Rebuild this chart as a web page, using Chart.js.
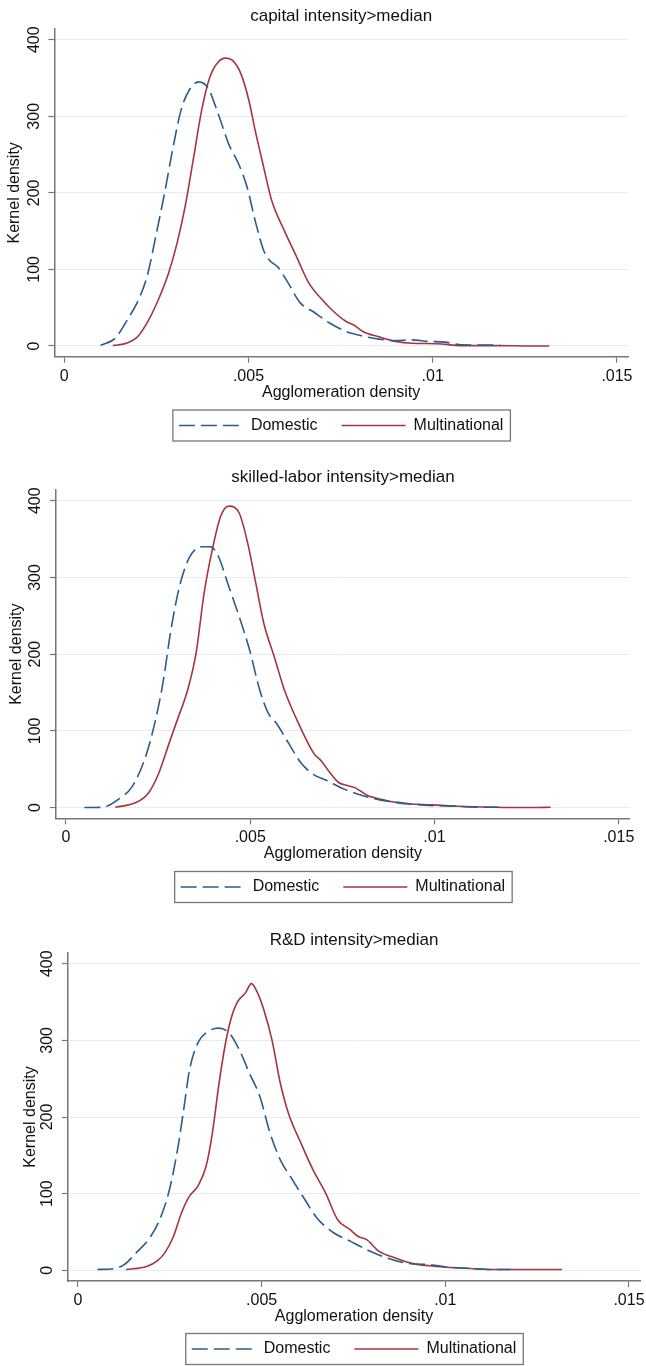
<!DOCTYPE html>
<html>
<head>
<meta charset="utf-8">
<script src="https://cdn.jsdelivr.net/npm/chart.js@4.4.1/dist/chart.umd.min.js"></script>
<style>
  html, body { margin: 0; padding: 0; background: #fff; overflow: hidden; }
  canvas { position: absolute; left: 0; }
</style>
</head>
<body>
<canvas id="capital" width="646" height="452" style="top:0px;width:646px;height:452px"></canvas>
<canvas id="skilled" width="646" height="458" style="top:452px;width:646px;height:458px"></canvas>
<canvas id="rnd" width="646" height="463" style="top:912px;width:646px;height:463px"></canvas>
<script>
const seriesNames = ["Domestic", "Multinational"];
const xTicks = [0, 0.005, 0.01, 0.015];
const xTickLabels = ["0", ".005", ".01", ".015"];
const yTicks = [0, 100, 200, 300, 400];
const yTickLabels = ["0", "100", "200", "300", "400"];

// capital intensity>median
const capDomX = [0.00099, 0.00138, 0.00171, 0.00205, 0.00227, 0.00250, 0.00272, 0.00294, 0.00317, 0.00339, 0.00365, 0.00390, 0.00418, 0.00446, 0.00473, 0.00496, 0.00518, 0.00541, 0.00557, 0.00580, 0.00608, 0.00641, 0.00675, 0.00720, 0.00765, 0.00810, 0.00854, 0.00899, 0.00944, 0.00988, 0.01033, 0.01078, 0.01123, 0.01184];
const capDomY = [1, 10, 34, 64, 95, 147, 199, 256, 308, 334, 345, 337, 303, 264, 238, 208, 164, 125, 112, 103, 82, 56, 45, 30, 19, 13, 9, 7, 8, 6, 5, 1.5, 1.3, 1];
const capMulX = [0.00132, 0.00171, 0.00199, 0.00227, 0.00255, 0.00283, 0.00306, 0.00328, 0.00350, 0.00373, 0.00395, 0.00418, 0.00438, 0.00457, 0.00479, 0.00501, 0.00518, 0.00541, 0.00563, 0.00597, 0.00630, 0.00664, 0.00697, 0.00731, 0.00765, 0.00787, 0.00810, 0.00854, 0.00899, 0.00944, 0.01011, 0.01078, 0.01168, 0.01268, 0.01316];
const capMulY = [0.5, 4, 12, 32, 60, 95, 134, 182, 243, 308, 351, 371, 376, 373, 356, 321, 282, 234, 190, 151, 117, 82, 62, 45, 32, 27, 19, 12, 6, 3.5, 3, 0.5, 0.5, 0, 0];

// skilled-labor intensity>median
const skDomX = [0.00050, 0.00100, 0.00146, 0.00179, 0.00213, 0.00241, 0.00263, 0.00285, 0.00308, 0.00336, 0.00369, 0.00392, 0.00414, 0.00442, 0.00470, 0.00498, 0.00526, 0.00549, 0.00571, 0.00604, 0.00638, 0.00672, 0.00705, 0.00750, 0.00795, 0.00851, 0.00907, 0.00974, 0.01052, 0.01108, 0.01175];
const skDomY = [0, 0.4, 12, 27, 62, 110, 162, 232, 288, 327, 340, 340, 327, 288, 249, 206, 153, 123, 110, 84, 58, 43, 36, 25, 17, 10, 6.5, 3, 2, 0.5, 0.4];
const skMulX = [0.00134, 0.00190, 0.00224, 0.00252, 0.00280, 0.00302, 0.00330, 0.00353, 0.00375, 0.00397, 0.00420, 0.00442, 0.00470, 0.00493, 0.00515, 0.00537, 0.00565, 0.00593, 0.00627, 0.00672, 0.00694, 0.00717, 0.00739, 0.00761, 0.00784, 0.00817, 0.00862, 0.00907, 0.00996, 0.01052, 0.01164, 0.01265, 0.01315];
const skMulY = [0.4, 6.5, 19, 45, 84, 114, 153, 201, 280, 336, 380, 393, 384, 345, 293, 240, 197, 153, 114, 71, 60, 45, 33, 29, 26, 16, 10, 5.6, 3.5, 2, 0.4, 0, 0.4];

// R&D intensity>median
const rdDomX = [0.00053, 0.00097, 0.00125, 0.00159, 0.00198, 0.00226, 0.00249, 0.00271, 0.00288, 0.00304, 0.00327, 0.00349, 0.00383, 0.00411, 0.00439, 0.00467, 0.00495, 0.00523, 0.00551, 0.00584, 0.00618, 0.00651, 0.00696, 0.00741, 0.00786, 0.00842, 0.00898, 0.00954, 0.01010, 0.01066, 0.01122, 0.01178];
const rdDomY = [1, 2, 7, 23, 44, 70, 105, 157, 210, 262, 297, 310, 316, 310, 288, 257, 227, 179, 144, 118, 92, 68, 49, 38, 27, 16, 9, 7.4, 4, 2.6, 1, 1];
const rdMulX = [0.00131, 0.00187, 0.00215, 0.00237, 0.00260, 0.00282, 0.00304, 0.00327, 0.00349, 0.00366, 0.00383, 0.00400, 0.00416, 0.00433, 0.00456, 0.00472, 0.00489, 0.00506, 0.00528, 0.00551, 0.00573, 0.00607, 0.00640, 0.00674, 0.00707, 0.00741, 0.00763, 0.00786, 0.00819, 0.00864, 0.00909, 0.00976, 0.01043, 0.01133, 0.01222, 0.01318];
const rdMulY = [1, 5, 12, 23, 44, 75, 97, 110, 136, 179, 240, 292, 327, 349, 362, 374, 362, 340, 301, 244, 205, 166, 131, 101, 66, 53, 44, 40, 25, 16, 9, 5, 3, 1, 1, 1];

Chart.defaults.font.family = "'Liberation Sans', Arial, sans-serif";
Chart.defaults.color = "#111";

const pts = (xs, ys) => xs.map((x, i) => ({ x: x, y: ys[i] }));

// legend samples: take the dash/colour from the dataset line itself
function lineLabels(chart) {
  const items = Chart.defaults.plugins.legend.labels.generateLabels(chart);
  items.forEach(it => {
    const ds = chart.data.datasets[it.datasetIndex];
    it.lineDash = ds.borderDash || [];
    it.strokeStyle = ds.borderColor;
    it.lineWidth = ds.borderWidth;
    it.pointStyle = "line";
  });
  return items;
}

// Stata style legend frame around the legend items
const legendBox = {
  id: "legendBox",
  afterDraw(chart) {
    const hb = chart.legend && chart.legend.legendHitBoxes;
    if (!hb || !hb.length) return;
    const last = hb[hb.length - 1];
    const left = hb[0].left - 6;
    const right = last.left + last.width + 7;
    const cy = hb[0].top + hb[0].height / 2;
    const c = chart.ctx;
    c.save();
    c.strokeStyle = "#777";
    c.lineWidth = 1.3;
    c.strokeRect(left, cy - 15.5, right - left, 31);
    c.restore();
  }
};

function makePanel(id, title, domX, domY, mulX, mulY, lay) {
  return new Chart(document.getElementById(id), {
    type: "line",
    data: {
      datasets: [
        {
          label: seriesNames[0],
          data: pts(domX, domY),
          borderColor: "#2b5d8c",
          borderWidth: 1.6,
          borderDash: [16, 6],
          pointRadius: 0,
          cubicInterpolationMode: "monotone",
          fill: false
        },
        {
          label: seriesNames[1],
          data: pts(mulX, mulY),
          borderColor: "#a8343f",
          borderWidth: 1.6,
          pointRadius: 0,
          cubicInterpolationMode: "monotone",
          fill: false
        }
      ]
    },
    options: {
      responsive: false,
      animation: false,
      devicePixelRatio: 1,
      layout: { padding: { left: 0, top: 0, right: lay.right, bottom: lay.bottom } },
      plugins: {
        title: {
          display: true,
          text: title,
          fullSize: false,
          font: { size: 17, weight: "normal" },
          padding: { top: lay.titleTop, bottom: lay.titleBottom }
        },
        legend: {
          position: "bottom",
          fullSize: false,
          labels: {
            usePointStyle: true,
            pointStyle: "line",
            pointStyleWidth: 64,
            padding: 24,
            font: { size: 16 },
            generateLabels: lineLabels
          }
        },
        tooltip: { enabled: false }
      },
      scales: {
        x: {
          type: "linear",
          min: -0.00027,
          max: 0.0153,
          afterBuildTicks: s => { s.ticks = xTicks.map(v => ({ value: v })); },
          afterFit: s => { s.height = lay.xHeight; s.paddingLeft = 0; s.paddingRight = 0; },
          ticks: { callback: (v, i) => xTickLabels[i], font: { size: 16 }, padding: 4, maxRotation: 0 },
          grid: { drawOnChartArea: false, tickLength: 6, tickColor: "#777", tickWidth: 1.2 },
          border: { color: "#777", width: 1.5 },
          title: {
            display: true,
            text: "Agglomeration density",
            font: { size: 16 },
            padding: { top: 0, bottom: lay.xTitleBottom }
          }
        },
        y: {
          min: -14,
          max: 414,
          afterBuildTicks: s => { s.ticks = yTicks.map(v => ({ value: v })); },
          afterFit: s => { s.width = lay.yWidth; s.paddingTop = 0; s.paddingBottom = 0; },
          ticks: {
            callback: (v, i) => yTickLabels[i],
            font: { size: 16 },
            padding: lay.yTickPad,
            minRotation: 90,
            maxRotation: 90,
            crossAlign: "center"
          },
          grid: { color: "#e4eef1", lineWidth: 1, tickLength: 6, tickColor: "#777", tickWidth: 1.2 },
          border: { color: "#777", width: 1.5 },
          title: {
            display: true,
            text: "Kernel density",
            font: { size: 16 },
            padding: { top: lay.yTitlePad, bottom: 0 }
          }
        }
      }
    },
    plugins: [legendBox]
  });
}

makePanel("capital", "capital intensity>median", capDomX, capDomY, capMulX, capMulY,
  { right: 18, bottom: 8.5, titleTop: 5.8, titleBottom: 2.8, xHeight: 36.8, xTitleBottom: -8.8, yWidth: 54.3, yTickPad: 0.7, yTitlePad: 5.4 });
makePanel("skilled", "skilled-labor intensity>median", skDomX, skDomY, skMulX, skMulY,
  { right: 16.2, bottom: 5, titleTop: 15.5, titleBottom: 2.1, xHeight: 36.7, xTitleBottom: -8.6, yWidth: 56, yTickPad: 0.7, yTitlePad: 7.4 });
makePanel("rnd", "R&D intensity>median", rdDomX, rdDomY, rdMulX, rdMulY,
  { right: 6, bottom: 8, titleTop: 18.5, titleBottom: 2.1, xHeight: 36, xTitleBottom: -9.3, yWidth: 68, yTickPad: 0.7, yTitlePad: 21.4 });
</script>
</body>
</html>
